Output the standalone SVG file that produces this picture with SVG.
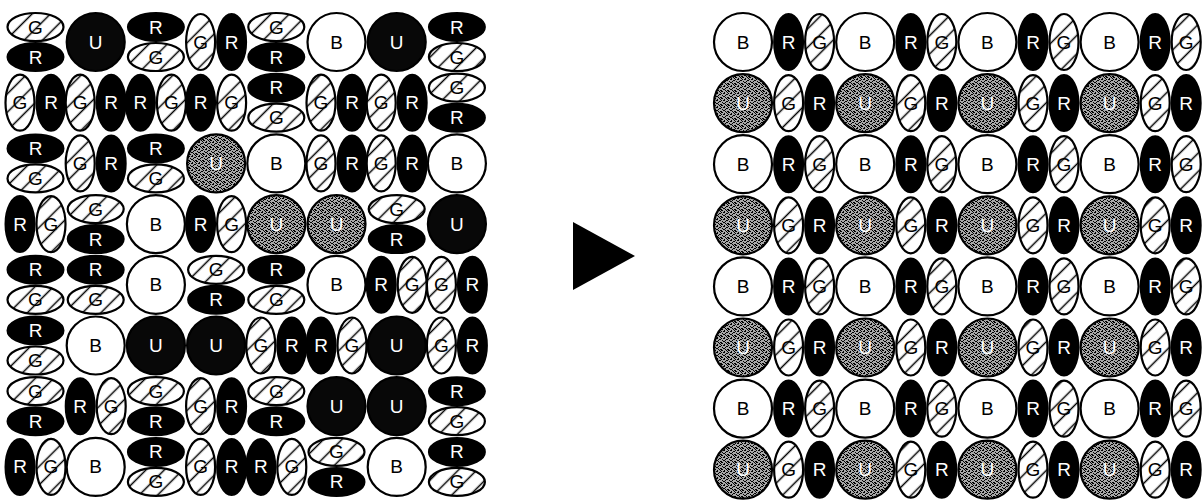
<svg xmlns="http://www.w3.org/2000/svg" width="1204" height="501" viewBox="0 0 1204 501">
<style>
.b{fill:#fff;stroke:#000;stroke-width:2.2}
.uk{fill:#080808;stroke:#000;stroke-width:2.2}
.ug{fill:url(#stip);stroke:#000;stroke-width:2.2}
.r{fill:#000;stroke:#000;stroke-width:2}
.g{fill:url(#hatch);stroke:#000;stroke-width:2.2}
text{font-family:"Liberation Sans",Arial,sans-serif;font-size:19px;text-anchor:middle}
.tk{fill:#000}
.tw{fill:#fff}
</style>
<defs>
<pattern id="hatch" patternUnits="userSpaceOnUse" width="13" height="13" patternTransform="rotate(45)"><rect width="13" height="13" fill="#fff"/><line x1="6.5" y1="0" x2="6.5" y2="13" stroke="#000" stroke-width="1.5"/></pattern>
<pattern id="stip" patternUnits="userSpaceOnUse" width="7" height="7"><rect width="7" height="7" fill="#a8a8a8"/><rect x="0" y="0" width="2" height="1"/><rect x="3" y="1" width="1" height="2"/><rect x="5" y="3" width="2" height="1"/><rect x="1" y="4" width="1" height="1"/><rect x="2" y="5" width="2" height="1"/><rect x="6" y="6" width="1" height="1"/><rect x="4" y="6" width="1" height="1"/><rect x="0" y="2" width="1" height="1"/><rect x="5" y="0" width="1" height="1"/><rect x="2" y="2" width="1" height="1"/><rect x="4" y="4" width="1" height="1"/><rect x="0" y="6" width="1" height="1"/><rect x="6" y="1" width="1" height="1"/></pattern>
</defs>
<rect width="1204" height="501" fill="#fff"/>
<g id="left-grid">
<!-- row 0 -->
<g id="L0-0a"><ellipse class="g" cx="35.5" cy="27" rx="28" ry="14"/><text class="tk" x="35.5" y="33.5">G</text></g>
<g id="L0-0b"><ellipse class="r" cx="35.5" cy="57" rx="28" ry="14"/><text class="tw" x="35.5" y="63.5">R</text></g>
<g id="L0-1"><circle class="uk" cx="95.7" cy="42" r="29"/><text class="tw" x="95.7" y="48.5">U</text></g>
<g id="L0-2a"><ellipse class="r" cx="155.9" cy="27" rx="28" ry="14"/><text class="tw" x="155.9" y="33.5">R</text></g>
<g id="L0-2b"><ellipse class="g" cx="155.9" cy="57" rx="28" ry="14"/><text class="tk" x="155.9" y="63.5">G</text></g>
<g id="L0-3a"><ellipse class="g" cx="200.6" cy="42" rx="14.5" ry="28"/><text class="tk" x="200.6" y="48.5">G</text></g>
<g id="L0-3b"><ellipse class="r" cx="231.6" cy="42" rx="14.5" ry="28"/><text class="tw" x="231.6" y="48.5">R</text></g>
<g id="L0-4a"><ellipse class="g" cx="276.3" cy="27" rx="28" ry="14"/><text class="tk" x="276.3" y="33.5">G</text></g>
<g id="L0-4b"><ellipse class="r" cx="276.3" cy="57" rx="28" ry="14"/><text class="tw" x="276.3" y="63.5">R</text></g>
<g id="L0-5"><circle class="b" cx="336.5" cy="42" r="29"/><text class="tk" x="336.5" y="48.5">B</text></g>
<g id="L0-6"><circle class="uk" cx="396.7" cy="42" r="29"/><text class="tw" x="396.7" y="48.5">U</text></g>
<g id="L0-7a"><ellipse class="r" cx="456.9" cy="27" rx="28" ry="14"/><text class="tw" x="456.9" y="33.5">R</text></g>
<g id="L0-7b"><ellipse class="g" cx="456.9" cy="57" rx="28" ry="14"/><text class="tk" x="456.9" y="63.5">G</text></g>
<!-- row 1 -->
<g id="L1-0a"><ellipse class="g" cx="20" cy="102.7" rx="14.5" ry="28"/><text class="tk" x="20" y="109.2">G</text></g>
<g id="L1-0b"><ellipse class="r" cx="51" cy="102.7" rx="14.5" ry="28"/><text class="tw" x="51" y="109.2">R</text></g>
<g id="L1-1a"><ellipse class="g" cx="80.2" cy="102.7" rx="14.5" ry="28"/><text class="tk" x="80.2" y="109.2">G</text></g>
<g id="L1-1b"><ellipse class="r" cx="111.2" cy="102.7" rx="14.5" ry="28"/><text class="tw" x="111.2" y="109.2">R</text></g>
<g id="L1-2a"><ellipse class="r" cx="140.4" cy="102.7" rx="14.5" ry="28"/><text class="tw" x="140.4" y="109.2">R</text></g>
<g id="L1-2b"><ellipse class="g" cx="171.4" cy="102.7" rx="14.5" ry="28"/><text class="tk" x="171.4" y="109.2">G</text></g>
<g id="L1-3a"><ellipse class="r" cx="200.6" cy="102.7" rx="14.5" ry="28"/><text class="tw" x="200.6" y="109.2">R</text></g>
<g id="L1-3b"><ellipse class="g" cx="231.6" cy="102.7" rx="14.5" ry="28"/><text class="tk" x="231.6" y="109.2">G</text></g>
<g id="L1-4a"><ellipse class="r" cx="276.3" cy="87.7" rx="28" ry="14"/><text class="tw" x="276.3" y="94.2">R</text></g>
<g id="L1-4b"><ellipse class="g" cx="276.3" cy="117.7" rx="28" ry="14"/><text class="tk" x="276.3" y="124.2">G</text></g>
<g id="L1-5a"><ellipse class="g" cx="321" cy="102.7" rx="14.5" ry="28"/><text class="tk" x="321" y="109.2">G</text></g>
<g id="L1-5b"><ellipse class="r" cx="352" cy="102.7" rx="14.5" ry="28"/><text class="tw" x="352" y="109.2">R</text></g>
<g id="L1-6a"><ellipse class="g" cx="381.2" cy="102.7" rx="14.5" ry="28"/><text class="tk" x="381.2" y="109.2">G</text></g>
<g id="L1-6b"><ellipse class="r" cx="412.2" cy="102.7" rx="14.5" ry="28"/><text class="tw" x="412.2" y="109.2">R</text></g>
<g id="L1-7a"><ellipse class="g" cx="456.9" cy="87.7" rx="28" ry="14"/><text class="tk" x="456.9" y="94.2">G</text></g>
<g id="L1-7b"><ellipse class="r" cx="456.9" cy="117.7" rx="28" ry="14"/><text class="tw" x="456.9" y="124.2">R</text></g>
<!-- row 2 -->
<g id="L2-0a"><ellipse class="r" cx="35.5" cy="148.4" rx="28" ry="14"/><text class="tw" x="35.5" y="154.9">R</text></g>
<g id="L2-0b"><ellipse class="g" cx="35.5" cy="178.4" rx="28" ry="14"/><text class="tk" x="35.5" y="184.9">G</text></g>
<g id="L2-1a"><ellipse class="g" cx="80.2" cy="163.4" rx="14.5" ry="28"/><text class="tk" x="80.2" y="169.9">G</text></g>
<g id="L2-1b"><ellipse class="r" cx="111.2" cy="163.4" rx="14.5" ry="28"/><text class="tw" x="111.2" y="169.9">R</text></g>
<g id="L2-2a"><ellipse class="r" cx="155.9" cy="148.4" rx="28" ry="14"/><text class="tw" x="155.9" y="154.9">R</text></g>
<g id="L2-2b"><ellipse class="g" cx="155.9" cy="178.4" rx="28" ry="14"/><text class="tk" x="155.9" y="184.9">G</text></g>
<g id="L2-3"><circle class="ug" cx="216.1" cy="163.4" r="29"/><text class="tw" x="216.1" y="169.9">U</text></g>
<g id="L2-4"><circle class="b" cx="276.3" cy="163.4" r="29"/><text class="tk" x="276.3" y="169.9">B</text></g>
<g id="L2-5a"><ellipse class="g" cx="321" cy="163.4" rx="14.5" ry="28"/><text class="tk" x="321" y="169.9">G</text></g>
<g id="L2-5b"><ellipse class="r" cx="352" cy="163.4" rx="14.5" ry="28"/><text class="tw" x="352" y="169.9">R</text></g>
<g id="L2-6a"><ellipse class="g" cx="381.2" cy="163.4" rx="14.5" ry="28"/><text class="tk" x="381.2" y="169.9">G</text></g>
<g id="L2-6b"><ellipse class="r" cx="412.2" cy="163.4" rx="14.5" ry="28"/><text class="tw" x="412.2" y="169.9">R</text></g>
<g id="L2-7"><circle class="b" cx="456.9" cy="163.4" r="29"/><text class="tk" x="456.9" y="169.9">B</text></g>
<!-- row 3 -->
<g id="L3-0a"><ellipse class="r" cx="20" cy="224.1" rx="14.5" ry="28"/><text class="tw" x="20" y="230.6">R</text></g>
<g id="L3-0b"><ellipse class="g" cx="51" cy="224.1" rx="14.5" ry="28"/><text class="tk" x="51" y="230.6">G</text></g>
<g id="L3-1a"><ellipse class="g" cx="95.7" cy="209.1" rx="28" ry="14"/><text class="tk" x="95.7" y="215.6">G</text></g>
<g id="L3-1b"><ellipse class="r" cx="95.7" cy="239.1" rx="28" ry="14"/><text class="tw" x="95.7" y="245.6">R</text></g>
<g id="L3-2"><circle class="b" cx="155.9" cy="224.1" r="29"/><text class="tk" x="155.9" y="230.6">B</text></g>
<g id="L3-3a"><ellipse class="r" cx="200.6" cy="224.1" rx="14.5" ry="28"/><text class="tw" x="200.6" y="230.6">R</text></g>
<g id="L3-3b"><ellipse class="g" cx="231.6" cy="224.1" rx="14.5" ry="28"/><text class="tk" x="231.6" y="230.6">G</text></g>
<g id="L3-4"><circle class="ug" cx="276.3" cy="224.1" r="29"/><text class="tw" x="276.3" y="230.6">U</text></g>
<g id="L3-5"><circle class="ug" cx="336.5" cy="224.1" r="29"/><text class="tw" x="336.5" y="230.6">U</text></g>
<g id="L3-6a"><ellipse class="g" cx="396.7" cy="209.1" rx="28" ry="14"/><text class="tk" x="396.7" y="215.6">G</text></g>
<g id="L3-6b"><ellipse class="r" cx="396.7" cy="239.1" rx="28" ry="14"/><text class="tw" x="396.7" y="245.6">R</text></g>
<g id="L3-7"><circle class="uk" cx="456.9" cy="224.1" r="29"/><text class="tw" x="456.9" y="230.6">U</text></g>
<!-- row 4 -->
<g id="L4-0a"><ellipse class="r" cx="35.5" cy="269.8" rx="28" ry="14"/><text class="tw" x="35.5" y="276.3">R</text></g>
<g id="L4-0b"><ellipse class="g" cx="35.5" cy="299.8" rx="28" ry="14"/><text class="tk" x="35.5" y="306.3">G</text></g>
<g id="L4-1a"><ellipse class="r" cx="95.7" cy="269.8" rx="28" ry="14"/><text class="tw" x="95.7" y="276.3">R</text></g>
<g id="L4-1b"><ellipse class="g" cx="95.7" cy="299.8" rx="28" ry="14"/><text class="tk" x="95.7" y="306.3">G</text></g>
<g id="L4-2"><circle class="b" cx="155.9" cy="284.8" r="29"/><text class="tk" x="155.9" y="291.3">B</text></g>
<g id="L4-3a"><ellipse class="g" cx="216.1" cy="269.8" rx="28" ry="14"/><text class="tk" x="216.1" y="276.3">G</text></g>
<g id="L4-3b"><ellipse class="r" cx="216.1" cy="299.8" rx="28" ry="14"/><text class="tw" x="216.1" y="306.3">R</text></g>
<g id="L4-4a"><ellipse class="r" cx="276.3" cy="269.8" rx="28" ry="14"/><text class="tw" x="276.3" y="276.3">R</text></g>
<g id="L4-4b"><ellipse class="g" cx="276.3" cy="299.8" rx="28" ry="14"/><text class="tk" x="276.3" y="306.3">G</text></g>
<g id="L4-5"><circle class="b" cx="336.5" cy="284.8" r="29"/><text class="tk" x="336.5" y="291.3">B</text></g>
<g id="L4-6a"><ellipse class="r" cx="381.2" cy="284.8" rx="14.5" ry="28"/><text class="tw" x="381.2" y="291.3">R</text></g>
<g id="L4-6b"><ellipse class="g" cx="412.2" cy="284.8" rx="14.5" ry="28"/><text class="tk" x="412.2" y="291.3">G</text></g>
<g id="L4-7a"><ellipse class="g" cx="441.4" cy="284.8" rx="14.5" ry="28"/><text class="tk" x="441.4" y="291.3">G</text></g>
<g id="L4-7b"><ellipse class="r" cx="472.4" cy="284.8" rx="14.5" ry="28"/><text class="tw" x="472.4" y="291.3">R</text></g>
<!-- row 5 -->
<g id="L5-0a"><ellipse class="r" cx="35.5" cy="330.5" rx="28" ry="14"/><text class="tw" x="35.5" y="337">R</text></g>
<g id="L5-0b"><ellipse class="g" cx="35.5" cy="360.5" rx="28" ry="14"/><text class="tk" x="35.5" y="367">G</text></g>
<g id="L5-1"><circle class="b" cx="95.7" cy="345.5" r="29"/><text class="tk" x="95.7" y="352">B</text></g>
<g id="L5-2"><circle class="uk" cx="155.9" cy="345.5" r="29"/><text class="tw" x="155.9" y="352">U</text></g>
<g id="L5-3"><circle class="uk" cx="216.1" cy="345.5" r="29"/><text class="tw" x="216.1" y="352">U</text></g>
<g id="L5-4a"><ellipse class="g" cx="260.8" cy="345.5" rx="14.5" ry="28"/><text class="tk" x="260.8" y="352">G</text></g>
<g id="L5-4b"><ellipse class="r" cx="291.8" cy="345.5" rx="14.5" ry="28"/><text class="tw" x="291.8" y="352">R</text></g>
<g id="L5-5a"><ellipse class="r" cx="321" cy="345.5" rx="14.5" ry="28"/><text class="tw" x="321" y="352">R</text></g>
<g id="L5-5b"><ellipse class="g" cx="352" cy="345.5" rx="14.5" ry="28"/><text class="tk" x="352" y="352">G</text></g>
<g id="L5-6"><circle class="uk" cx="396.7" cy="345.5" r="29"/><text class="tw" x="396.7" y="352">U</text></g>
<g id="L5-7a"><ellipse class="g" cx="441.4" cy="345.5" rx="14.5" ry="28"/><text class="tk" x="441.4" y="352">G</text></g>
<g id="L5-7b"><ellipse class="r" cx="472.4" cy="345.5" rx="14.5" ry="28"/><text class="tw" x="472.4" y="352">R</text></g>
<!-- row 6 -->
<g id="L6-0a"><ellipse class="g" cx="35.5" cy="391.2" rx="28" ry="14"/><text class="tk" x="35.5" y="397.7">G</text></g>
<g id="L6-0b"><ellipse class="r" cx="35.5" cy="421.2" rx="28" ry="14"/><text class="tw" x="35.5" y="427.7">R</text></g>
<g id="L6-1a"><ellipse class="r" cx="80.2" cy="406.2" rx="14.5" ry="28"/><text class="tw" x="80.2" y="412.7">R</text></g>
<g id="L6-1b"><ellipse class="g" cx="111.2" cy="406.2" rx="14.5" ry="28"/><text class="tk" x="111.2" y="412.7">G</text></g>
<g id="L6-2a"><ellipse class="g" cx="155.9" cy="391.2" rx="28" ry="14"/><text class="tk" x="155.9" y="397.7">G</text></g>
<g id="L6-2b"><ellipse class="r" cx="155.9" cy="421.2" rx="28" ry="14"/><text class="tw" x="155.9" y="427.7">R</text></g>
<g id="L6-3a"><ellipse class="g" cx="200.6" cy="406.2" rx="14.5" ry="28"/><text class="tk" x="200.6" y="412.7">G</text></g>
<g id="L6-3b"><ellipse class="r" cx="231.6" cy="406.2" rx="14.5" ry="28"/><text class="tw" x="231.6" y="412.7">R</text></g>
<g id="L6-4a"><ellipse class="g" cx="276.3" cy="391.2" rx="28" ry="14"/><text class="tk" x="276.3" y="397.7">G</text></g>
<g id="L6-4b"><ellipse class="r" cx="276.3" cy="421.2" rx="28" ry="14"/><text class="tw" x="276.3" y="427.7">R</text></g>
<g id="L6-5"><circle class="uk" cx="336.5" cy="406.2" r="29"/><text class="tw" x="336.5" y="412.7">U</text></g>
<g id="L6-6"><circle class="uk" cx="396.7" cy="406.2" r="29"/><text class="tw" x="396.7" y="412.7">U</text></g>
<g id="L6-7a"><ellipse class="r" cx="456.9" cy="391.2" rx="28" ry="14"/><text class="tw" x="456.9" y="397.7">R</text></g>
<g id="L6-7b"><ellipse class="g" cx="456.9" cy="421.2" rx="28" ry="14"/><text class="tk" x="456.9" y="427.7">G</text></g>
<!-- row 7 -->
<g id="L7-0a"><ellipse class="r" cx="20" cy="466.9" rx="14.5" ry="28"/><text class="tw" x="20" y="473.4">R</text></g>
<g id="L7-0b"><ellipse class="g" cx="51" cy="466.9" rx="14.5" ry="28"/><text class="tk" x="51" y="473.4">G</text></g>
<g id="L7-1"><circle class="b" cx="95.7" cy="466.9" r="29"/><text class="tk" x="95.7" y="473.4">B</text></g>
<g id="L7-2a"><ellipse class="r" cx="155.9" cy="451.9" rx="28" ry="14"/><text class="tw" x="155.9" y="458.4">R</text></g>
<g id="L7-2b"><ellipse class="g" cx="155.9" cy="481.9" rx="28" ry="14"/><text class="tk" x="155.9" y="488.4">G</text></g>
<g id="L7-3a"><ellipse class="g" cx="200.6" cy="466.9" rx="14.5" ry="28"/><text class="tk" x="200.6" y="473.4">G</text></g>
<g id="L7-3b"><ellipse class="r" cx="231.6" cy="466.9" rx="14.5" ry="28"/><text class="tw" x="231.6" y="473.4">R</text></g>
<g id="L7-4a"><ellipse class="r" cx="260.8" cy="466.9" rx="14.5" ry="28"/><text class="tw" x="260.8" y="473.4">R</text></g>
<g id="L7-4b"><ellipse class="g" cx="291.8" cy="466.9" rx="14.5" ry="28"/><text class="tk" x="291.8" y="473.4">G</text></g>
<g id="L7-5a"><ellipse class="g" cx="336.5" cy="451.9" rx="28" ry="14"/><text class="tk" x="336.5" y="458.4">G</text></g>
<g id="L7-5b"><ellipse class="r" cx="336.5" cy="481.9" rx="28" ry="14"/><text class="tw" x="336.5" y="488.4">R</text></g>
<g id="L7-6"><circle class="b" cx="396.7" cy="466.9" r="29"/><text class="tk" x="396.7" y="473.4">B</text></g>
<g id="L7-7a"><ellipse class="r" cx="456.9" cy="451.9" rx="28" ry="14"/><text class="tw" x="456.9" y="458.4">R</text></g>
<g id="L7-7b"><ellipse class="g" cx="456.9" cy="481.9" rx="28" ry="14"/><text class="tk" x="456.9" y="488.4">G</text></g>
</g>
<g id="connectors">
<polygon points="573,222 573,290 635,256" fill="#000"/>
</g>
<g id="right-grid">
<!-- row 0 -->
<g id="R0-0"><circle class="b" cx="743" cy="42" r="29"/><text class="tk" x="743" y="48.5">B</text></g>
<g id="R0-1a"><ellipse class="r" cx="788.6" cy="42" rx="14.5" ry="28"/><text class="tw" x="788.6" y="48.5">R</text></g>
<g id="R0-1b"><ellipse class="g" cx="819.6" cy="42" rx="14.5" ry="28"/><text class="tk" x="819.6" y="48.5">G</text></g>
<g id="R0-2"><circle class="b" cx="865.2" cy="42" r="29"/><text class="tk" x="865.2" y="48.5">B</text></g>
<g id="R0-3a"><ellipse class="r" cx="910.8" cy="42" rx="14.5" ry="28"/><text class="tw" x="910.8" y="48.5">R</text></g>
<g id="R0-3b"><ellipse class="g" cx="941.8" cy="42" rx="14.5" ry="28"/><text class="tk" x="941.8" y="48.5">G</text></g>
<g id="R0-4"><circle class="b" cx="987.4" cy="42" r="29"/><text class="tk" x="987.4" y="48.5">B</text></g>
<g id="R0-5a"><ellipse class="r" cx="1033" cy="42" rx="14.5" ry="28"/><text class="tw" x="1033" y="48.5">R</text></g>
<g id="R0-5b"><ellipse class="g" cx="1064" cy="42" rx="14.5" ry="28"/><text class="tk" x="1064" y="48.5">G</text></g>
<g id="R0-6"><circle class="b" cx="1109.6" cy="42" r="29"/><text class="tk" x="1109.6" y="48.5">B</text></g>
<g id="R0-7a"><ellipse class="r" cx="1155.2" cy="42" rx="14.5" ry="28"/><text class="tw" x="1155.2" y="48.5">R</text></g>
<g id="R0-7b"><ellipse class="g" cx="1186.2" cy="42" rx="14.5" ry="28"/><text class="tk" x="1186.2" y="48.5">G</text></g>
<!-- row 1 -->
<g id="R1-0"><circle class="ug" cx="743" cy="103.1" r="29"/><text class="tw" x="743" y="109.6">U</text></g>
<g id="R1-1a"><ellipse class="g" cx="788.6" cy="103.1" rx="14.5" ry="28"/><text class="tk" x="788.6" y="109.6">G</text></g>
<g id="R1-1b"><ellipse class="r" cx="819.6" cy="103.1" rx="14.5" ry="28"/><text class="tw" x="819.6" y="109.6">R</text></g>
<g id="R1-2"><circle class="ug" cx="865.2" cy="103.1" r="29"/><text class="tw" x="865.2" y="109.6">U</text></g>
<g id="R1-3a"><ellipse class="g" cx="910.8" cy="103.1" rx="14.5" ry="28"/><text class="tk" x="910.8" y="109.6">G</text></g>
<g id="R1-3b"><ellipse class="r" cx="941.8" cy="103.1" rx="14.5" ry="28"/><text class="tw" x="941.8" y="109.6">R</text></g>
<g id="R1-4"><circle class="ug" cx="987.4" cy="103.1" r="29"/><text class="tw" x="987.4" y="109.6">U</text></g>
<g id="R1-5a"><ellipse class="g" cx="1033" cy="103.1" rx="14.5" ry="28"/><text class="tk" x="1033" y="109.6">G</text></g>
<g id="R1-5b"><ellipse class="r" cx="1064" cy="103.1" rx="14.5" ry="28"/><text class="tw" x="1064" y="109.6">R</text></g>
<g id="R1-6"><circle class="ug" cx="1109.6" cy="103.1" r="29"/><text class="tw" x="1109.6" y="109.6">U</text></g>
<g id="R1-7a"><ellipse class="g" cx="1155.2" cy="103.1" rx="14.5" ry="28"/><text class="tk" x="1155.2" y="109.6">G</text></g>
<g id="R1-7b"><ellipse class="r" cx="1186.2" cy="103.1" rx="14.5" ry="28"/><text class="tw" x="1186.2" y="109.6">R</text></g>
<!-- row 2 -->
<g id="R2-0"><circle class="b" cx="743" cy="164.2" r="29"/><text class="tk" x="743" y="170.7">B</text></g>
<g id="R2-1a"><ellipse class="r" cx="788.6" cy="164.2" rx="14.5" ry="28"/><text class="tw" x="788.6" y="170.7">R</text></g>
<g id="R2-1b"><ellipse class="g" cx="819.6" cy="164.2" rx="14.5" ry="28"/><text class="tk" x="819.6" y="170.7">G</text></g>
<g id="R2-2"><circle class="b" cx="865.2" cy="164.2" r="29"/><text class="tk" x="865.2" y="170.7">B</text></g>
<g id="R2-3a"><ellipse class="r" cx="910.8" cy="164.2" rx="14.5" ry="28"/><text class="tw" x="910.8" y="170.7">R</text></g>
<g id="R2-3b"><ellipse class="g" cx="941.8" cy="164.2" rx="14.5" ry="28"/><text class="tk" x="941.8" y="170.7">G</text></g>
<g id="R2-4"><circle class="b" cx="987.4" cy="164.2" r="29"/><text class="tk" x="987.4" y="170.7">B</text></g>
<g id="R2-5a"><ellipse class="r" cx="1033" cy="164.2" rx="14.5" ry="28"/><text class="tw" x="1033" y="170.7">R</text></g>
<g id="R2-5b"><ellipse class="g" cx="1064" cy="164.2" rx="14.5" ry="28"/><text class="tk" x="1064" y="170.7">G</text></g>
<g id="R2-6"><circle class="b" cx="1109.6" cy="164.2" r="29"/><text class="tk" x="1109.6" y="170.7">B</text></g>
<g id="R2-7a"><ellipse class="r" cx="1155.2" cy="164.2" rx="14.5" ry="28"/><text class="tw" x="1155.2" y="170.7">R</text></g>
<g id="R2-7b"><ellipse class="g" cx="1186.2" cy="164.2" rx="14.5" ry="28"/><text class="tk" x="1186.2" y="170.7">G</text></g>
<!-- row 3 -->
<g id="R3-0"><circle class="ug" cx="743" cy="225.3" r="29"/><text class="tw" x="743" y="231.8">U</text></g>
<g id="R3-1a"><ellipse class="g" cx="788.6" cy="225.3" rx="14.5" ry="28"/><text class="tk" x="788.6" y="231.8">G</text></g>
<g id="R3-1b"><ellipse class="r" cx="819.6" cy="225.3" rx="14.5" ry="28"/><text class="tw" x="819.6" y="231.8">R</text></g>
<g id="R3-2"><circle class="ug" cx="865.2" cy="225.3" r="29"/><text class="tw" x="865.2" y="231.8">U</text></g>
<g id="R3-3a"><ellipse class="g" cx="910.8" cy="225.3" rx="14.5" ry="28"/><text class="tk" x="910.8" y="231.8">G</text></g>
<g id="R3-3b"><ellipse class="r" cx="941.8" cy="225.3" rx="14.5" ry="28"/><text class="tw" x="941.8" y="231.8">R</text></g>
<g id="R3-4"><circle class="ug" cx="987.4" cy="225.3" r="29"/><text class="tw" x="987.4" y="231.8">U</text></g>
<g id="R3-5a"><ellipse class="g" cx="1033" cy="225.3" rx="14.5" ry="28"/><text class="tk" x="1033" y="231.8">G</text></g>
<g id="R3-5b"><ellipse class="r" cx="1064" cy="225.3" rx="14.5" ry="28"/><text class="tw" x="1064" y="231.8">R</text></g>
<g id="R3-6"><circle class="ug" cx="1109.6" cy="225.3" r="29"/><text class="tw" x="1109.6" y="231.8">U</text></g>
<g id="R3-7a"><ellipse class="g" cx="1155.2" cy="225.3" rx="14.5" ry="28"/><text class="tk" x="1155.2" y="231.8">G</text></g>
<g id="R3-7b"><ellipse class="r" cx="1186.2" cy="225.3" rx="14.5" ry="28"/><text class="tw" x="1186.2" y="231.8">R</text></g>
<!-- row 4 -->
<g id="R4-0"><circle class="b" cx="743" cy="286.4" r="29"/><text class="tk" x="743" y="292.9">B</text></g>
<g id="R4-1a"><ellipse class="r" cx="788.6" cy="286.4" rx="14.5" ry="28"/><text class="tw" x="788.6" y="292.9">R</text></g>
<g id="R4-1b"><ellipse class="g" cx="819.6" cy="286.4" rx="14.5" ry="28"/><text class="tk" x="819.6" y="292.9">G</text></g>
<g id="R4-2"><circle class="b" cx="865.2" cy="286.4" r="29"/><text class="tk" x="865.2" y="292.9">B</text></g>
<g id="R4-3a"><ellipse class="r" cx="910.8" cy="286.4" rx="14.5" ry="28"/><text class="tw" x="910.8" y="292.9">R</text></g>
<g id="R4-3b"><ellipse class="g" cx="941.8" cy="286.4" rx="14.5" ry="28"/><text class="tk" x="941.8" y="292.9">G</text></g>
<g id="R4-4"><circle class="b" cx="987.4" cy="286.4" r="29"/><text class="tk" x="987.4" y="292.9">B</text></g>
<g id="R4-5a"><ellipse class="r" cx="1033" cy="286.4" rx="14.5" ry="28"/><text class="tw" x="1033" y="292.9">R</text></g>
<g id="R4-5b"><ellipse class="g" cx="1064" cy="286.4" rx="14.5" ry="28"/><text class="tk" x="1064" y="292.9">G</text></g>
<g id="R4-6"><circle class="b" cx="1109.6" cy="286.4" r="29"/><text class="tk" x="1109.6" y="292.9">B</text></g>
<g id="R4-7a"><ellipse class="r" cx="1155.2" cy="286.4" rx="14.5" ry="28"/><text class="tw" x="1155.2" y="292.9">R</text></g>
<g id="R4-7b"><ellipse class="g" cx="1186.2" cy="286.4" rx="14.5" ry="28"/><text class="tk" x="1186.2" y="292.9">G</text></g>
<!-- row 5 -->
<g id="R5-0"><circle class="ug" cx="743" cy="347.5" r="29"/><text class="tw" x="743" y="354">U</text></g>
<g id="R5-1a"><ellipse class="g" cx="788.6" cy="347.5" rx="14.5" ry="28"/><text class="tk" x="788.6" y="354">G</text></g>
<g id="R5-1b"><ellipse class="r" cx="819.6" cy="347.5" rx="14.5" ry="28"/><text class="tw" x="819.6" y="354">R</text></g>
<g id="R5-2"><circle class="ug" cx="865.2" cy="347.5" r="29"/><text class="tw" x="865.2" y="354">U</text></g>
<g id="R5-3a"><ellipse class="g" cx="910.8" cy="347.5" rx="14.5" ry="28"/><text class="tk" x="910.8" y="354">G</text></g>
<g id="R5-3b"><ellipse class="r" cx="941.8" cy="347.5" rx="14.5" ry="28"/><text class="tw" x="941.8" y="354">R</text></g>
<g id="R5-4"><circle class="ug" cx="987.4" cy="347.5" r="29"/><text class="tw" x="987.4" y="354">U</text></g>
<g id="R5-5a"><ellipse class="g" cx="1033" cy="347.5" rx="14.5" ry="28"/><text class="tk" x="1033" y="354">G</text></g>
<g id="R5-5b"><ellipse class="r" cx="1064" cy="347.5" rx="14.5" ry="28"/><text class="tw" x="1064" y="354">R</text></g>
<g id="R5-6"><circle class="ug" cx="1109.6" cy="347.5" r="29"/><text class="tw" x="1109.6" y="354">U</text></g>
<g id="R5-7a"><ellipse class="g" cx="1155.2" cy="347.5" rx="14.5" ry="28"/><text class="tk" x="1155.2" y="354">G</text></g>
<g id="R5-7b"><ellipse class="r" cx="1186.2" cy="347.5" rx="14.5" ry="28"/><text class="tw" x="1186.2" y="354">R</text></g>
<!-- row 6 -->
<g id="R6-0"><circle class="b" cx="743" cy="408.6" r="29"/><text class="tk" x="743" y="415.1">B</text></g>
<g id="R6-1a"><ellipse class="r" cx="788.6" cy="408.6" rx="14.5" ry="28"/><text class="tw" x="788.6" y="415.1">R</text></g>
<g id="R6-1b"><ellipse class="g" cx="819.6" cy="408.6" rx="14.5" ry="28"/><text class="tk" x="819.6" y="415.1">G</text></g>
<g id="R6-2"><circle class="b" cx="865.2" cy="408.6" r="29"/><text class="tk" x="865.2" y="415.1">B</text></g>
<g id="R6-3a"><ellipse class="r" cx="910.8" cy="408.6" rx="14.5" ry="28"/><text class="tw" x="910.8" y="415.1">R</text></g>
<g id="R6-3b"><ellipse class="g" cx="941.8" cy="408.6" rx="14.5" ry="28"/><text class="tk" x="941.8" y="415.1">G</text></g>
<g id="R6-4"><circle class="b" cx="987.4" cy="408.6" r="29"/><text class="tk" x="987.4" y="415.1">B</text></g>
<g id="R6-5a"><ellipse class="r" cx="1033" cy="408.6" rx="14.5" ry="28"/><text class="tw" x="1033" y="415.1">R</text></g>
<g id="R6-5b"><ellipse class="g" cx="1064" cy="408.6" rx="14.5" ry="28"/><text class="tk" x="1064" y="415.1">G</text></g>
<g id="R6-6"><circle class="b" cx="1109.6" cy="408.6" r="29"/><text class="tk" x="1109.6" y="415.1">B</text></g>
<g id="R6-7a"><ellipse class="r" cx="1155.2" cy="408.6" rx="14.5" ry="28"/><text class="tw" x="1155.2" y="415.1">R</text></g>
<g id="R6-7b"><ellipse class="g" cx="1186.2" cy="408.6" rx="14.5" ry="28"/><text class="tk" x="1186.2" y="415.1">G</text></g>
<!-- row 7 -->
<g id="R7-0"><circle class="ug" cx="743" cy="469.7" r="29"/><text class="tw" x="743" y="476.2">U</text></g>
<g id="R7-1a"><ellipse class="g" cx="788.6" cy="469.7" rx="14.5" ry="28"/><text class="tk" x="788.6" y="476.2">G</text></g>
<g id="R7-1b"><ellipse class="r" cx="819.6" cy="469.7" rx="14.5" ry="28"/><text class="tw" x="819.6" y="476.2">R</text></g>
<g id="R7-2"><circle class="ug" cx="865.2" cy="469.7" r="29"/><text class="tw" x="865.2" y="476.2">U</text></g>
<g id="R7-3a"><ellipse class="g" cx="910.8" cy="469.7" rx="14.5" ry="28"/><text class="tk" x="910.8" y="476.2">G</text></g>
<g id="R7-3b"><ellipse class="r" cx="941.8" cy="469.7" rx="14.5" ry="28"/><text class="tw" x="941.8" y="476.2">R</text></g>
<g id="R7-4"><circle class="ug" cx="987.4" cy="469.7" r="29"/><text class="tw" x="987.4" y="476.2">U</text></g>
<g id="R7-5a"><ellipse class="g" cx="1033" cy="469.7" rx="14.5" ry="28"/><text class="tk" x="1033" y="476.2">G</text></g>
<g id="R7-5b"><ellipse class="r" cx="1064" cy="469.7" rx="14.5" ry="28"/><text class="tw" x="1064" y="476.2">R</text></g>
<g id="R7-6"><circle class="ug" cx="1109.6" cy="469.7" r="29"/><text class="tw" x="1109.6" y="476.2">U</text></g>
<g id="R7-7a"><ellipse class="g" cx="1155.2" cy="469.7" rx="14.5" ry="28"/><text class="tk" x="1155.2" y="476.2">G</text></g>
<g id="R7-7b"><ellipse class="r" cx="1186.2" cy="469.7" rx="14.5" ry="28"/><text class="tw" x="1186.2" y="476.2">R</text></g>
</g>
</svg>
